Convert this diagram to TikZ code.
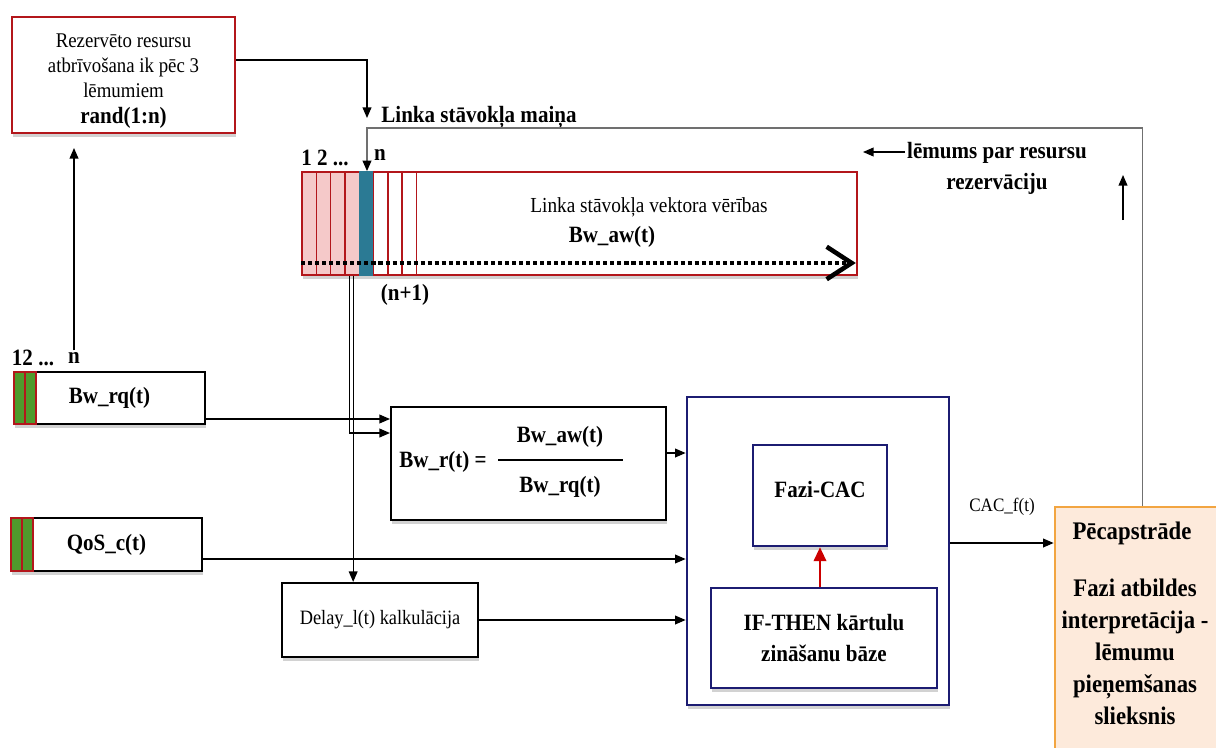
\documentclass[tikz,border=0pt]{standalone}
\usepackage{fontspec}
\setmainfont[FakeStretch=0.9]{Liberation Serif}
\usetikzlibrary{arrows.meta, shadows}

\definecolor{boxred}{HTML}{B3161B}
\definecolor{cellpink}{HTML}{F5C9C9}
\definecolor{cellblue}{HTML}{2B7A94}
\definecolor{cellgreen}{HTML}{4F9A2C}
\definecolor{cacblue}{HTML}{1C1C72}
\definecolor{postorange}{HTML}{F2A541}
\definecolor{postfill}{HTML}{FDEADB}
\definecolor{fbgray}{HTML}{707070}

\tikzstyle{shadowed} = [drop shadow={shadow xshift=0.5pt, shadow yshift=-2.5pt, opacity=0.25, fill=black!70}]
\tikzstyle{block} = [rectangle, draw=black, line width=1.2pt, fill=white, shadowed, inner sep=0pt]
\tikzstyle{redblock} = [rectangle, draw=boxred, line width=1.3pt, fill=white, shadowed, inner sep=0pt]
\tikzstyle{blueblock} = [rectangle, draw=cacblue, line width=1.3pt, fill=white, shadowed, inner sep=0pt]
\tikzstyle{boldlbl} = [inner sep=1pt, font=\fontsize{13.3}{17.6}\selectfont\bfseries]
\tikzstyle{normlbl} = [inner sep=1pt, font=\fontsize{11.7}{14}\selectfont]
\tikzstyle{arrow} = [line width=0.7pt, -{Triangle[length=6pt, width=5pt]}]

\begin{document}
\begin{tikzpicture}[x=0.02cm, y=-0.02cm,
cellnode/.style={rectangle, draw=boxred, line width=0.8pt, minimum width=0.286cm, minimum height=2.06cm, inner sep=0pt},
greencell/.style={rectangle, draw=boxred, fill=cellgreen, line width=0.8pt, minimum width=0.22cm, minimum height=1.04cm, inner sep=0pt},
fbline/.style={draw=fbgray, line width=0.9pt, -{Triangle[length=6pt, width=5pt, color=black]}},
dotarrow/.style={line width=2.3pt, dash pattern=on 2.3pt off 1.7pt, -{Straight Barb[length=0.5cm, width=0.65cm, line width=2.6pt]}},
redarrow/.style={draw=red!80!black, line width=1.6pt, -{Triangle[length=8pt, width=7pt]}}
]
\useasboundingbox (0,0) rectangle (1216,747);

% upper part
\node (rand) [redblock, minimum width=4.46cm, minimum height=2.32cm, align=center, font=\fontsize{11.9}{14.5}\selectfont] at (123.5,75)
  {\rule{0pt}{14.5pt}Rezervēto resursu\\atbrīvošana ik pēc 3\\lēmumiem\\{\fontsize{13.3}{14}\selectfont\bfseries rand(1:n)}};
\node (change) [boldlbl] at (479,117) {Linka stāvokļa maiņa};
\node (decision) [boldlbl, align=center] at (997,168) {lēmums par resursu\\rezervāciju};
\coordinate (chgtop) at (367,118);
\coordinate (fbtop) at (367,128);
\coordinate (decfrom) at (905,152);
\coordinate (decto) at (863,152);
\coordinate (upfrom) at (1123,220);
\coordinate (upto) at (1123,175);

% link state vector
\node (vec) [rectangle, draw=boxred, line width=1pt, fill=white, shadowed, minimum width=11.1cm, minimum height=2.06cm, inner sep=0pt] at (579.5,223.5) {};
\foreach \i in {0,...,3}
  \node (cell\i) [cellnode, fill=cellpink] at ({302+14.3*\i+7.15},223.5) {};
\node (cell4) [cellnode, fill=cellblue, draw=cellblue] at ({302+14.3*4+7.15},223.5) {};
\foreach \i in {5,...,7}
  \node (cell\i) [cellnode, fill=white] at ({302+14.3*\i+7.15},223.5) {};
\node (vectitle) [normlbl, font=\fontsize{12.2}{13}\selectfont] at (649,207) {Linka stāvokļa vektora vērības};
\node (vecname) [boldlbl] at (612,237) {Bw\_aw(t)};
\draw [dotarrow] ([yshift=-0.79cm]vec.west) -- ([yshift=-0.79cm, xshift=-0.04cm]vec.east);
\node (cellnums) [boldlbl] at (325,158) {1 2 ...};
\node (celln) [boldlbl] at (380,155) {n};
\node (nextcell) [boldlbl] at (405,295) {(n+1)};

% inputs
\node (bwrq) [block, minimum width=3.82cm, minimum height=1.04cm, boldlbl] at (109.5,398) {Bw\_rq(t)};
\node (rqcell1) [greencell] at (19.5,398) {};
\node (rqcell2) [greencell] at (30.5,398) {};
\node (rqnums) [boldlbl] at (33,358) {12 ...};
\node (rqn) [boldlbl] at (74,358) {n};
\coordinate (randin) at (75,148);

\node (qos) [block, minimum width=3.82cm, minimum height=1.06cm, boldlbl] at (106.5,544.5) {QoS\_c(t)};
\node (qoscell1) [greencell, minimum height=1.06cm] at (16.5,544.5) {};
\node (qoscell2) [greencell, minimum height=1.06cm] at (27.5,544.5) {};

% ratio
\node (bwr) [block, minimum width=5.5cm, minimum height=2.26cm] at (528.5,463.5) {};
\node (bwrlhs) [boldlbl] at (443,462) {Bw\_r(t) =};
\node (bwrnum) [boldlbl] at (560,437) {Bw\_aw(t)};
\node (bwrden) [boldlbl] at (560,487) {Bw\_rq(t)};
\draw [line width=1.3pt] (498,460) -- (623,460);

\node (delay) [block, minimum width=3.92cm, minimum height=1.48cm, font=\fontsize{11.6}{13}\selectfont] at (380,620) {Delay\_l(t) kalkulācija};

% fuzzy CAC
\node (cac) [rectangle, draw=cacblue, line width=1.6pt, fill=white, shadowed, minimum width=5.24cm, minimum height=6.16cm] at (818,551) {};
\node (fazi) [blueblock, minimum width=2.68cm, minimum height=2.02cm, boldlbl] at (820,495.5) {Fazi-CAC\rule[-7pt]{0pt}{1pt}};
\node (ifthen) [blueblock, minimum width=4.52cm, minimum height=2cm, boldlbl, align=center] at (824,638) {IF-THEN kārtulu\\zināšanu bāze};

% post processing
\node (post) [rectangle, draw=postorange, fill=postfill, line width=1.6pt, minimum width=3.5cm, minimum height=5.06cm] at (1142.5,633.5) {};
\node (posttitle) [boldlbl, font=\fontsize{14.4}{18}\selectfont\bfseries] at (1132,533) {Pēcapstrāde};
\node (posttext) [boldlbl, align=center, font=\fontsize{14.4}{18.2}\selectfont\bfseries] at (1135,652) {Fazi atbildes\\interpretācija -\\lēmumu\\pieņemšanas\\slieksnis};

% connectors
\draw [arrow] ([yshift=0.3cm]rand.east) -| (chgtop);
\draw [fbline] (post.north) |- (fbtop) -- (fbtop |- vec.north);
\draw [arrow] (decfrom) -- (decto);
\draw [arrow] (upfrom) -- (upto);
\draw [arrow] (rqn.north) -- (rqn.north |- randin);
\draw [arrow] ([xshift=0.96cm]vec.south west) |- ([yshift=0.61cm]bwr.west);
\draw [arrow] ([xshift=1.04cm]vec.south west) coordinate (vd) -- (vd |- delay.north);
\draw [arrow] ([yshift=-0.42cm]bwrq.east) coordinate (rq) -- (rq -| bwr.west);
\draw [arrow] ([yshift=-0.29cm]qos.east) coordinate (qs) -- (qs -| cac.west);
\draw [arrow] ([yshift=0.21cm]bwr.east) coordinate (bw) -- (bw -| cac.west);
\draw [arrow] (delay.east) -- (delay.east -| cac.west);
\draw [redarrow] (ifthen.north -| fazi.south) -- (fazi.south);
\draw [arrow] ([yshift=0.16cm]cac.east) coordinate (cf) -- (cf -| post.west)
  node [midway, above=0.5cm, normlbl, font=\fontsize{10.8}{12}\selectfont] (caclabel) {CAC\_f(t)};
\end{tikzpicture}
\end{document}
